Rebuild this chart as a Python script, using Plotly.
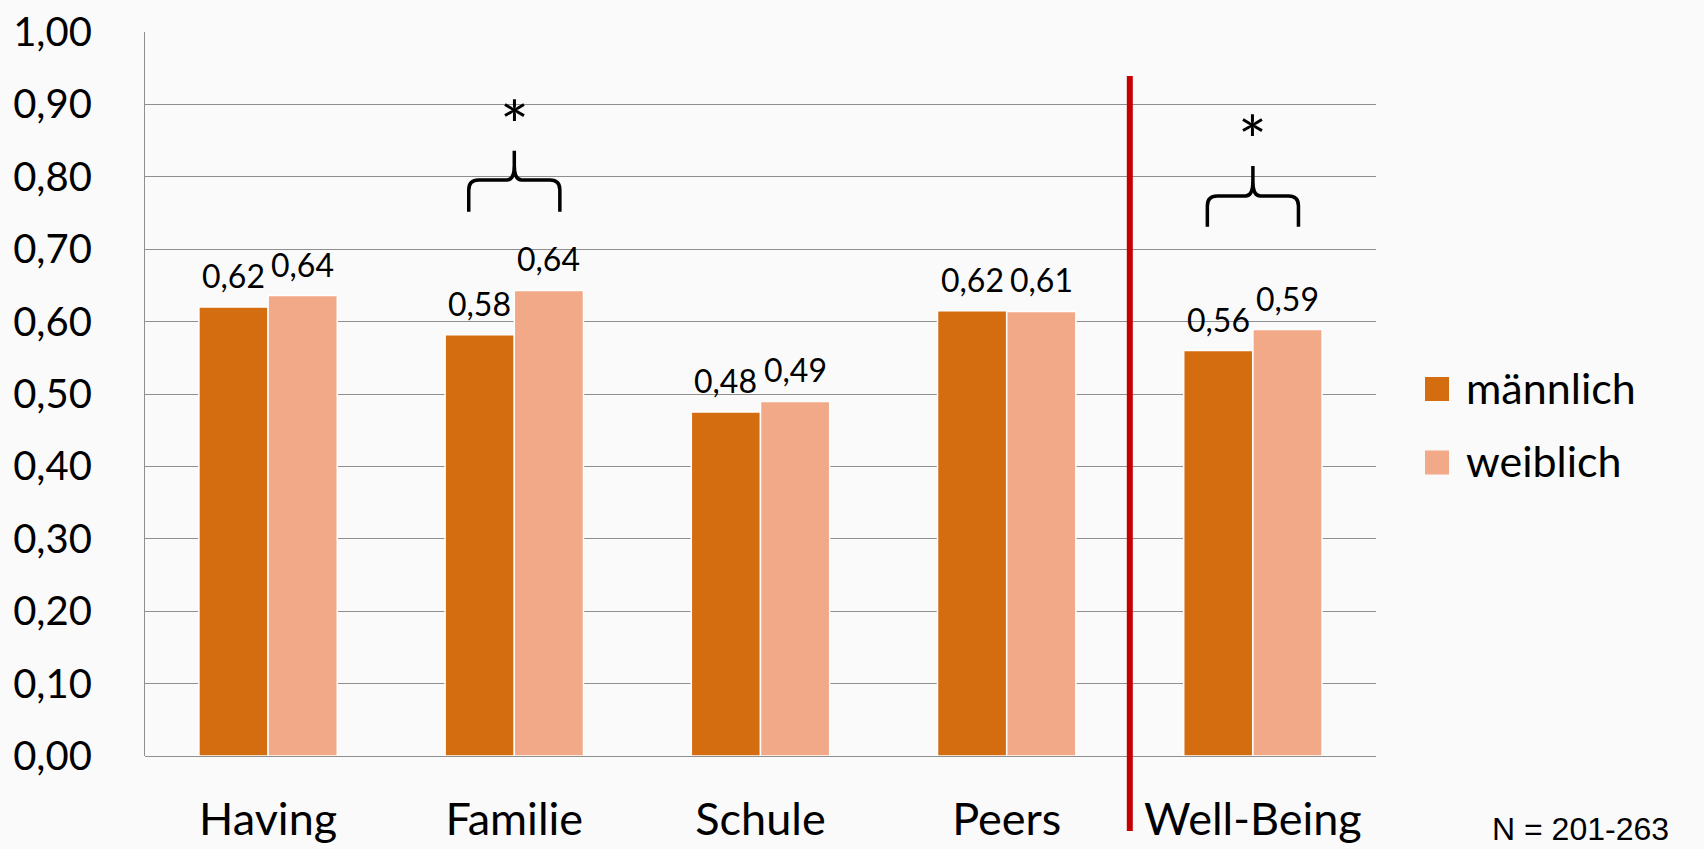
import plotly.graph_objects as go

# Scores by domain and gender
categories = ["Having", "Familie", "Schule", "Peers", "Well-Being"]
maennlich = [0.620, 0.582, 0.4753, 0.6151, 0.560]
weiblich = [0.636, 0.643, 0.4897, 0.6141, 0.589]
series_names = ["männlich", "weiblich"]
colors = ["#D46C10", "#F2A987"]
y_ticks = [0.0, 0.1, 0.2, 0.3, 0.4, 0.5, 0.6, 0.7, 0.8, 0.9, 1.0]
significant = ["Familie", "Well-Being"]
note_text = "N = 201-263"

# Canvas / plot-area geometry in pixels
W, H = 1704, 849
ML, MR, MT, MB = 145, 328, 32, 93
PW, PH = W - ML - MR, H - MT - MB

BARGAP = 0.438
slot = (1 - BARGAP) / 2  # width of one bar in category units

LABEL_FONT = "Lato, 'Open Sans', sans-serif"


def px_to_paper_x(px):
    return (px - ML) / PW


def px_to_paper_y(py):
    return (H - MB - py) / PH


xs = list(range(len(categories)))

fig = go.Figure()
for name, vals, col in zip(series_names, [maennlich, weiblich], colors):
    fig.add_trace(go.Bar(
        x=xs, y=vals, name=name,
        marker=dict(color=col, line=dict(color="white", width=1.5)),
        showlegend=False,
    ))

annotations = []
shapes = []

# Value labels above each bar
for k, vals in enumerate([maennlich, weiblich]):
    off = (-0.5 + k) * slot
    for i, v in enumerate(vals):
        annotations.append(dict(
            x=i + off, y=v, xref="x", yref="y",
            text=f"{v:.2f}".replace(".", ","),
            showarrow=False, yanchor="bottom", yshift=10,
            font=dict(family=LABEL_FONT, size=32, color="#000000"),
        ))

# Significance braces with asterisks
brace_half = 0.185
dx_corner = 0.04
dy_corner = 0.0138
brace_levels = {"Familie": (0.7517, 0.7957, 0.836, 0.890),
                "Well-Being": (0.731, 0.7734, 0.8149, 0.869)}
for cat in significant:
    c = categories.index(cat)
    y_tip, y_h, y_peak, y_star = brace_levels[cat]
    xl, xr = c - brace_half, c + brace_half
    path = (
        f"M {xl},{y_tip} L {xl},{y_h - dy_corner} "
        f"Q {xl},{y_h} {xl + dx_corner},{y_h} "
        f"L {c - 0.03},{y_h} Q {c},{y_h} {c},{y_h + 0.02} L {c},{y_peak} "
        f"M {c},{y_h + 0.02} Q {c},{y_h} {c + 0.03},{y_h} "
        f"L {xr - dx_corner},{y_h} Q {xr},{y_h} {xr},{y_h - dy_corner} "
        f"L {xr},{y_tip}"
    )
    shapes.append(dict(type="path", path=path, xref="x", yref="y",
                       line=dict(color="#000000", width=3.5)))
    annotations.append(dict(
        x=c, y=y_star, xref="x", yref="y", text="*", showarrow=False,
        font=dict(family=LABEL_FONT, size=68, color="#000000"),
        yanchor="middle", yshift=-12,
    ))

# Red separator before the Well-Being column
shapes.append(dict(type="line", xref="x", yref="paper",
                   x0=3.5, x1=3.5,
                   y0=px_to_paper_y(76), y1=px_to_paper_y(831),
                   line=dict(color="#C40000", width=6)))

# Legend drawn as squares plus text
legend_rows = [389, 462.5]
for name, col, cy in zip(series_names, colors, legend_rows):
    shapes.append(dict(type="rect", xref="paper", yref="paper",
                       x0=px_to_paper_x(1425), x1=px_to_paper_x(1449),
                       y0=px_to_paper_y(cy + 12), y1=px_to_paper_y(cy - 12),
                       fillcolor=col, line=dict(width=0)))
    annotations.append(dict(
        x=px_to_paper_x(1464), y=px_to_paper_y(cy - 2), xref="paper",
        yref="paper",
        text=name, showarrow=False, xanchor="left", yanchor="middle",
        font=dict(family=LABEL_FONT, size=43, color="#000000"),
    ))

# Sample size note, sitting on the bottom edge of the canvas
annotations.append(dict(
    x=px_to_paper_x(1670), y=px_to_paper_y(H - 1), xref="paper", yref="paper",
    text=note_text, showarrow=False, xanchor="right", yanchor="bottom",
    borderpad=0,
    font=dict(family="'Liberation Sans', Arial, sans-serif", size=32,
              color="#000000"),
))

fig.update_layout(
    width=W, height=H,
    margin=dict(l=ML, r=MR, t=MT, b=MB, pad=0, autoexpand=False),
    paper_bgcolor="#FAFAFA", plot_bgcolor="#FAFAFA",
    barmode="group", bargap=BARGAP, bargroupgap=0,
    separators=",.",
    shapes=shapes, annotations=annotations,
    showlegend=False,
)
fig.update_xaxes(
    range=[-0.5, len(categories) - 0.5],
    tickvals=xs, ticktext=categories, automargin=False,
    showgrid=False, zeroline=False,
    showline=False, ticks="", ticklabelstandoff=33,
    tickfont=dict(family=LABEL_FONT, size=45, color="#000000"),
)
fig.update_yaxes(
    range=[0, 1], tickvals=y_ticks, tickformat=".2f", automargin=False,
    showgrid=True, gridcolor="#8F8F8F", gridwidth=1.3,
    zeroline=True, zerolinecolor="#8F8F8F", zerolinewidth=1.3,
    showline=True, linecolor="#8F8F8F", linewidth=1.3,
    ticks="", ticklabelstandoff=44,
    tickfont=dict(family=LABEL_FONT, size=40, color="#000000"),
)

fig.write_html("out.html")
